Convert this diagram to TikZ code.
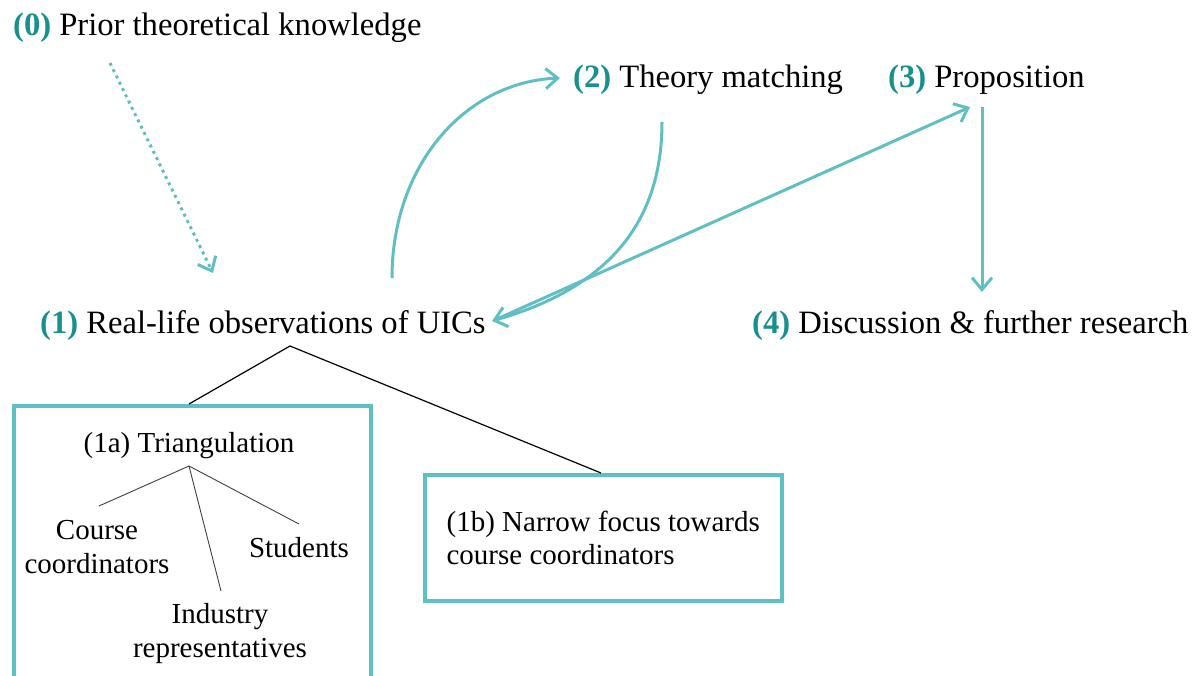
\documentclass[tikz,border=0pt]{standalone}
\usepackage{fontspec}
\setmainfont{Liberation Serif}
\usetikzlibrary{arrows.meta}
\definecolor{numteal}{HTML}{17908F}
\definecolor{lineteal}{HTML}{5FBFC3}
\newcommand\numlbl[1]{\textcolor{numteal}{\textbf{#1}}}
\begin{document}
\begin{tikzpicture}[x=1pt,y=1pt,
  big/.style={font=\fontsize{32.6}{38}\selectfont, inner sep=0pt, anchor=base west},
  small/.style={font=\fontsize{29}{34}\selectfont, inner sep=0pt, align=center},
  flow/.style={draw=lineteal, line width=3pt, -{Straight Barb[length=12pt,width=20pt]}},
  box/.style={draw=lineteal, line width=3.5pt},
  tree/.style={draw=black, line width=1.2pt},
  subtree/.style={draw=black!75, line width=0.9pt}]
\useasboundingbox (0,0) rectangle (1197,-675);
\clip (0,0) rectangle (1197,-675);
% main labels
\node[big] (n0) at (13,-35) {\numlbl{(0)} Prior theoretical knowledge};
\node[big] (n2) at (573,-87) {\numlbl{(2)} Theory matching};
\node[big] (n3) at (888,-87) {\numlbl{(3)} Proposition};
\node[big] (n1) at (40,-333) {\numlbl{(1)} Real-life observations of UICs};
\node[big] (n4) at (752,-333) {\numlbl{(4)} Discussion \& further research};
% boxes
\node[box, anchor=north west, minimum width=357pt, minimum height=320pt] (b1a) at (12,-404) {};
\node[box, anchor=north west, minimum width=357pt, minimum height=126pt,
      align=left, font=\fontsize{29}{33}\selectfont] (b1b) at (423,-473)
      {(1b) Narrow focus towards\\course coordinators\hfill\null};
% inside box 1a
\node[small, anchor=base] (tri) at (189,-452) {(1a) Triangulation};
\node[small] (cc) at (97,-547) {Course\\coordinators};
\node[small, anchor=base] (st) at (299,-557) {Students};
\node[small] (ir) at (220,-634) {Industry\\representatives};
% coordinates for connector ends
\coordinate (t1) at (290,-346);
\coordinate (t1a) at (189,-404);
\coordinate (t1b) at (601,-473);
\coordinate (tri0) at (189,-466);
\coordinate (tcc) at (99,-506);
\coordinate (tir) at (221,-591);
\coordinate (tst) at (299,-524);
\coordinate (d0) at (110,-63);
\coordinate (d1) at (213,-273);
\coordinate (a1out) at (392,-278);
\coordinate (a2in) at (560,-78);
\coordinate (a2out) at (662,-122);
\coordinate (a1in) at (492,-321);
\coordinate (a1o3) at (497,-319);
\coordinate (a3in) at (970,-107);
\coordinate (a3out) at (982,-107);
\coordinate (a4in) at (982,-292);
% tree lines
\draw[tree] (t1) -- (t1a);
\draw[tree] (t1) -- (t1b);
\draw[subtree] (tri0) -- (tcc);
\draw[subtree] (tri0) -- (tir);
\draw[subtree] (tri0) -- (tst);
% flow arrows
\draw[flow, dash pattern=on 3pt off 4pt] (d0) -- (d1);
\draw[flow] (a1out) .. controls (392,-165) and (465,-82) .. (a2in);
\draw[flow] (a2out) .. controls (662,-230) and (600,-290) .. (a1in);
\draw[flow] (a1o3) -- (a3in);
\draw[flow] (a3out) -- (a4in);
\end{tikzpicture}
\end{document}
